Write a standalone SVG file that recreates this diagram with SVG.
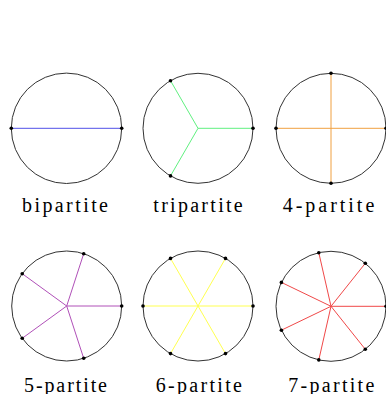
<svg xmlns="http://www.w3.org/2000/svg" width="386" height="394" viewBox="0 0 386 394">
<style>
.ring{fill:none;stroke:#333;stroke-width:1}
.dot{fill:#000}
.lbl{font-family:"Liberation Serif","DejaVu Serif",serif;font-size:20px;fill:#000}
.e1{stroke:#5050e8;stroke-width:1}
.e2{stroke:#60f080;stroke-width:1}
.e3{stroke:#f0a040;stroke-width:1}
.e4{stroke:#b050b8;stroke-width:1}
.e5{stroke:#ffff50;stroke-width:1}
.e6{stroke:#f04848;stroke-width:1}
</style>
<rect width="386" height="394" fill="#fff"/>
<g id="connectors">
<line class="e1" x1="11.3" y1="128.3" x2="121.7" y2="128.3"/>
<line class="e2" x1="198" y1="128.3" x2="253" y2="128.3"/>
<line class="e2" x1="198" y1="128.3" x2="170.5" y2="80.7"/>
<line class="e2" x1="198" y1="128.3" x2="170.5" y2="175.9"/>
<line class="e3" x1="276" y1="128.3" x2="386" y2="128.3"/>
<line class="e3" x1="331" y1="73.3" x2="331" y2="183.3"/>
<line class="e4" x1="66.7" y1="306" x2="121.7" y2="306"/>
<line class="e4" x1="66.7" y1="306" x2="83.7" y2="253.7"/>
<line class="e4" x1="66.7" y1="306" x2="22.2" y2="273.7"/>
<line class="e4" x1="66.7" y1="306" x2="22.2" y2="338.3"/>
<line class="e4" x1="66.7" y1="306" x2="83.7" y2="358.3"/>
<line class="e5" x1="143" y1="306" x2="253" y2="306"/>
<line class="e5" x1="170.5" y1="258.4" x2="225.5" y2="353.6"/>
<line class="e5" x1="225.5" y1="258.4" x2="170.5" y2="353.6"/>
<line class="e6" x1="331" y1="306.3" x2="386" y2="306.3"/>
<line class="e6" x1="331" y1="306.3" x2="365.3" y2="263.3"/>
<line class="e6" x1="331" y1="306.3" x2="318.8" y2="252.7"/>
<line class="e6" x1="331" y1="306.3" x2="281.4" y2="282.4"/>
<line class="e6" x1="331" y1="306.3" x2="281.4" y2="330.2"/>
<line class="e6" x1="331" y1="306.3" x2="318.8" y2="359.9"/>
<line class="e6" x1="331" y1="306.3" x2="365.3" y2="349.3"/>
</g>
<g id="bipartite">
<circle class="ring" cx="66.5" cy="128.3" r="55.2"/>
<circle class="dot" cx="11.3" cy="128.3" r="1.8"/>
<circle class="dot" cx="121.7" cy="128.3" r="1.8"/>
<text class="lbl" x="22" y="211.5" textLength="86" lengthAdjust="spacing">bipartite</text>
</g>
<g id="tripartite">
<circle class="ring" cx="198" cy="128.3" r="55"/>
<circle class="dot" cx="253" cy="128.3" r="1.8"/>
<circle class="dot" cx="170.5" cy="80.7" r="1.8"/>
<circle class="dot" cx="170.5" cy="175.9" r="1.8"/>
<text class="lbl" x="153.3" y="211.5" textLength="89.4" lengthAdjust="spacing">tripartite</text>
</g>
<g id="four-partite">
<circle class="ring" cx="331" cy="128.3" r="55"/>
<circle class="dot" cx="276" cy="128.3" r="1.8"/>
<circle class="dot" cx="386" cy="128.3" r="1.8"/>
<circle class="dot" cx="331" cy="73.3" r="1.8"/>
<circle class="dot" cx="331" cy="183.3" r="1.8"/>
<text class="lbl" x="282.7" y="211.5" textLength="91.6" lengthAdjust="spacing">4-partite</text>
</g>
<g id="five-partite">
<circle class="ring" cx="66.7" cy="306" r="55"/>
<circle class="dot" cx="121.7" cy="306" r="1.8"/>
<circle class="dot" cx="83.7" cy="253.7" r="1.8"/>
<circle class="dot" cx="22.2" cy="273.7" r="1.8"/>
<circle class="dot" cx="22.2" cy="338.3" r="1.8"/>
<circle class="dot" cx="83.7" cy="358.3" r="1.8"/>
<text class="lbl" x="24" y="391.5" textLength="83" lengthAdjust="spacing">5-partite</text>
</g>
<g id="six-partite">
<circle class="ring" cx="198" cy="306" r="55"/>
<circle class="dot" cx="143" cy="306" r="1.8"/>
<circle class="dot" cx="253" cy="306" r="1.8"/>
<circle class="dot" cx="170.5" cy="258.4" r="1.8"/>
<circle class="dot" cx="225.5" cy="258.4" r="1.8"/>
<circle class="dot" cx="170.5" cy="353.6" r="1.8"/>
<circle class="dot" cx="225.5" cy="353.6" r="1.8"/>
<text class="lbl" x="155.7" y="391.5" textLength="86.3" lengthAdjust="spacing">6-partite</text>
</g>
<g id="seven-partite">
<circle class="ring" cx="331" cy="306.3" r="55"/>
<circle class="dot" cx="386" cy="306.3" r="1.8"/>
<circle class="dot" cx="365.3" cy="263.3" r="1.8"/>
<circle class="dot" cx="318.8" cy="252.7" r="1.8"/>
<circle class="dot" cx="281.4" cy="282.4" r="1.8"/>
<circle class="dot" cx="281.4" cy="330.2" r="1.8"/>
<circle class="dot" cx="318.8" cy="359.9" r="1.8"/>
<circle class="dot" cx="365.3" cy="349.3" r="1.8"/>
<text class="lbl" x="288.3" y="391.5" textLength="86" lengthAdjust="spacing">7-partite</text>
</g>
</svg>
